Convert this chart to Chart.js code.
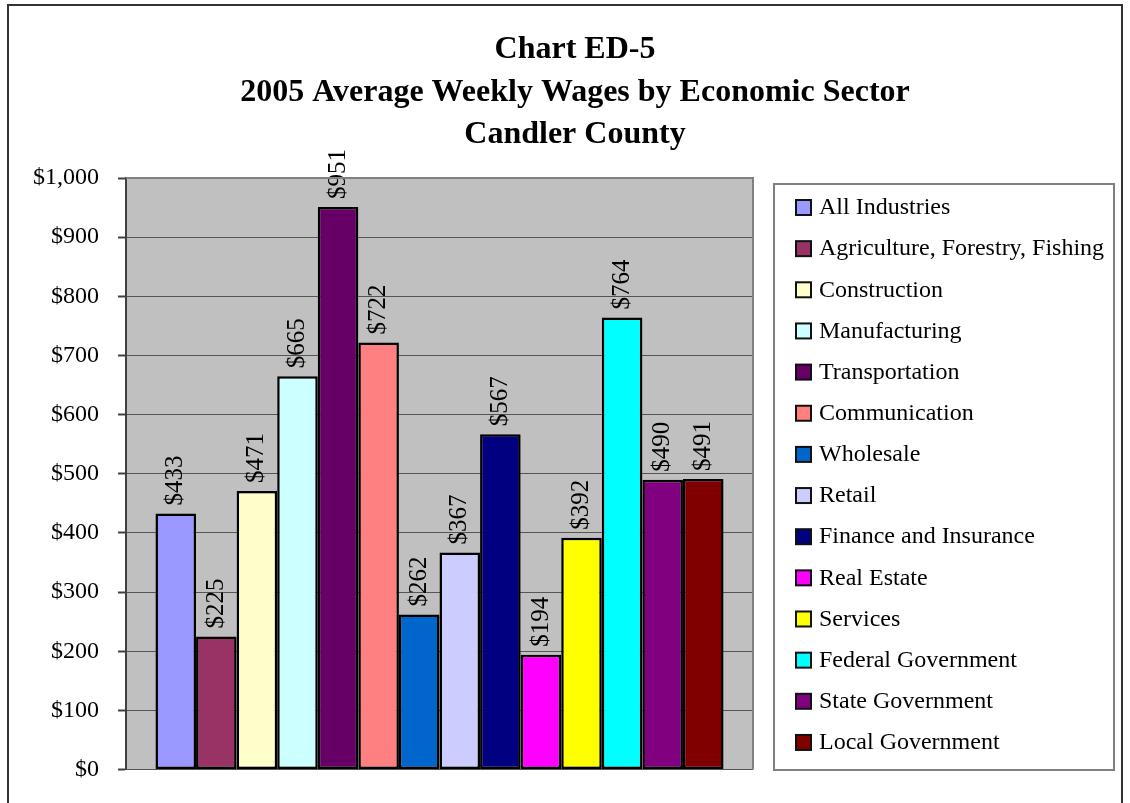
<!DOCTYPE html>
<html>
<head>
<meta charset="utf-8">
<title>Chart ED-5</title>
<script src="https://cdn.jsdelivr.net/npm/chart.js@4"></script>
<style>
  html, body { margin: 0; padding: 0; background: #fff; }
  canvas { display: block; }
</style>
</head>
<body>
<canvas id="wages" width="1130" height="803"></canvas>
<script>
// Chart data
const titleLines = ["Chart ED-5", "2005 Average Weekly Wages by Economic Sector", "Candler County"];
const sectors = [
  "All Industries", "Agriculture, Forestry, Fishing", "Construction", "Manufacturing",
  "Transportation", "Communication", "Wholesale", "Retail", "Finance and Insurance",
  "Real Estate", "Services", "Federal Government", "State Government", "Local Government"
];
const wages = [433, 225, 471, 665, 951, 722, 262, 367, 567, 194, 392, 764, 490, 491];
const colors = [
  "#9999ff", "#993366", "#ffffcc", "#ccffff", "#660066", "#ff8080", "#0066cc",
  "#ccccff", "#000080", "#ff00ff", "#ffff00", "#00ffff", "#800080", "#800000"
];
const yTicks = [0, 100, 200, 300, 400, 500, 600, 700, 800, 900, 1000];

const SERIF = "'Liberation Serif', 'Times New Roman', serif";

function money(v) {
  return "$" + v.toLocaleString("en-US");
}

// chart border, gray plot background, title
const backdrop = {
  id: "backdrop",
  beforeDraw(chart) {
    const ctx = chart.ctx;
    const a = chart.chartArea;
    ctx.save();
    ctx.fillStyle = "#fff";
    ctx.fillRect(0, 0, chart.width, chart.height);
    ctx.fillStyle = "#c0c0c0";
    ctx.fillRect(a.left, a.top, a.right - a.left, a.bottom - a.top);
    ctx.strokeStyle = "#333";
    ctx.lineWidth = 2;
    ctx.strokeRect(8, 5, 1114, 820);

    ctx.fillStyle = "#000";
    ctx.font = "bold 32px " + SERIF;
    ctx.textAlign = "center";
    ctx.textBaseline = "middle";
    titleLines.forEach((t, i) => ctx.fillText(t, 575, 50 + i * 42.5));
    ctx.restore();
  },
  afterDraw(chart) {
    const ctx = chart.ctx;
    const a = chart.chartArea;
    ctx.save();
    // top and right edge of the plot area
    ctx.strokeStyle = "#808080";
    ctx.lineWidth = 2;
    ctx.beginPath();
    ctx.moveTo(a.left, a.top);
    ctx.lineTo(a.right, a.top);
    ctx.lineTo(a.right, a.bottom);
    ctx.stroke();
    ctx.restore();
  }
};

// value labels, rotated, above each bar
const barLabels = {
  id: "barLabels",
  afterDatasetsDraw(chart) {
    const ctx = chart.ctx;
    ctx.save();
    ctx.fillStyle = "#000";
    ctx.font = "25px " + SERIF;
    ctx.textAlign = "left";
    ctx.textBaseline = "middle";
    chart.data.datasets.forEach((ds, i) => {
      const bar = chart.getDatasetMeta(i).data[0];
      ctx.save();
      ctx.translate(bar.x, bar.y - 8);
      ctx.rotate(-Math.PI / 2);
      ctx.fillText(money(ds.data[0]), 0, 0);
      ctx.restore();
    });
    ctx.restore();
  }
};

// boxed legend on the right
const sideLegend = {
  id: "sideLegend",
  afterDraw(chart) {
    const ctx = chart.ctx;
    ctx.save();
    ctx.fillStyle = "#fff";
    ctx.fillRect(774, 184, 340, 586);
    ctx.strokeStyle = "#808080";
    ctx.lineWidth = 2;
    ctx.strokeRect(774, 184, 340, 586);

    ctx.font = "24px " + SERIF;
    ctx.textAlign = "left";
    ctx.textBaseline = "middle";
    chart.data.datasets.forEach((ds, i) => {
      const y = 207 + i * 41.15;
      ctx.fillStyle = ds.backgroundColor;
      ctx.fillRect(796, y - 7, 15, 15);
      ctx.strokeStyle = "#111";
      ctx.lineWidth = 2;
      ctx.strokeRect(796, y - 7, 15, 15);
      ctx.fillStyle = "#000";
      ctx.fillText(ds.label, 819, y + 1);
    });
    ctx.restore();
  }
};

new Chart(document.getElementById("wages"), {
  type: "bar",
  data: {
    labels: [""],
    datasets: sectors.map((name, i) => ({
      label: name,
      data: [wages[i]],
      backgroundColor: colors[i],
      borderColor: "#000",
      borderWidth: 2.5,
      borderSkipped: false,
      categoryPercentage: 0.906,
      barPercentage: 1.0
    }))
  },
  options: {
    responsive: false,
    animation: false,
    events: [],
    layout: {
      padding: { left: 0, right: 377, top: 178, bottom: 33 }
    },
    plugins: {
      legend: { display: false },
      title: { display: false },
      tooltip: { enabled: false }
    },
    scales: {
      x: { display: false },
      y: {
        min: 0,
        max: 1000,
        afterFit(scale) { scale.width = 126; },
        afterBuildTicks(scale) { scale.ticks = yTicks.map(v => ({ value: v })); },
        border: { color: "#404040", width: 2 },
        grid: {
          color: "#555",
          lineWidth: 1,
          tickColor: "#404040",
          tickLength: 8,
          tickWidth: 2
        },
        ticks: {
          color: "#000",
          padding: 19,
          font: { family: SERIF, size: 24 },
          callback: v => money(v)
        }
      }
    }
  },
  plugins: [backdrop, barLabels, sideLegend]
});
</script>
</body>
</html>
